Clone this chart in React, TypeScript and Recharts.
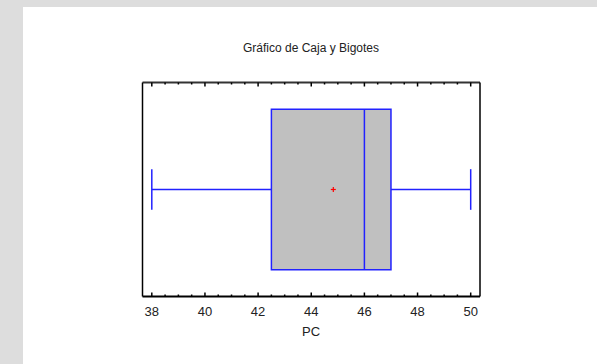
import {
  ScatterChart,
  Scatter,
  XAxis,
  YAxis,
  ReferenceArea,
  ReferenceLine,
} from "recharts";

// box-and-whisker statistics for PC
const variableName = "PC";
const minValue = [38];
const q1Value = [42.5];
const medianValue = [46];
const q3Value = [47];
const maxValue = [50];
const meanValue = [44.83];

const majorTicks = [38, 40, 42, 44, 46, 48, 50];
const allTicks = [
  38, 38.5, 39, 39.5, 40, 40.5, 41, 41.5, 42, 42.5, 43, 43.5, 44, 44.5, 45,
  45.5, 46, 46.5, 47, 47.5, 48, 48.5, 49, 49.5, 50,
];

const xDomain = [37.65, 50.35];
const boxLow = 0.125;
const boxHigh = 0.875;
const capLow = 0.405;
const capHigh = 0.595;
const mid = 0.5;

const BLUE = "#2222ff";
const FONT = "'Liberation Sans', Arial, sans-serif";

const meanData = meanValue.map((m) => ({ x: m, y: mid }));

const makeTick = (side: "top" | "bottom") => (props: any) => {
  const { x, y, payload } = props;
  const major = majorTicks.includes(payload.value);
  const len = major ? 4 : 2;
  const dir = side === "bottom" ? -1 : 1;
  return (
    <g>
      <line x1={x} x2={x} y1={y} y2={y + dir * len} stroke="#000" strokeWidth={1.5} />
      {side === "bottom" && major && (
        <text
          x={x}
          y={y + 19}
          textAnchor="middle"
          fontSize={13}
          fontFamily={FONT}
          fill="#222"
        >
          {payload.value}
        </text>
      )}
    </g>
  );
};

const MeanCross = (props: any) => {
  const { cx, cy } = props;
  return (
    <g stroke="#ff0000" strokeWidth={1.2}>
      <line x1={cx - 2.5} x2={cx + 2.5} y1={cy} y2={cy} />
      <line x1={cx} x2={cx} y1={cy - 2.5} y2={cy + 2.5} />
    </g>
  );
};

const Nothing = () => <g />;

export default function App() {
  return (
    <div
      style={{
        position: "absolute",
        left: 0,
        top: 0,
        width: 597,
        height: 364,
        background: "#dddddd",
        fontFamily: FONT,
      }}
    >
      <div
        style={{
          position: "absolute",
          left: 23,
          top: 7,
          width: 574,
          height: 357,
          background: "#ffffff",
        }}
      />
      <div
        style={{
          position: "absolute",
          left: 111,
          width: 400,
          top: 41,
          textAlign: "center",
          fontSize: 12,
          color: "#222",
        }}
      >
        Gráfico de Caja y Bigotes
      </div>
      <div
        style={{
          position: "absolute",
          left: 111,
          width: 400,
          top: 324,
          textAlign: "center",
          fontSize: 13,
          color: "#222",
        }}
      >
        {variableName}
      </div>
      <div style={{ position: "absolute", left: 0, top: 0 }}>
        <ScatterChart
          width={597}
          height={364}
          margin={{ top: 72.5, left: 132.5, right: 107, bottom: 37.5 }}
        >
          <XAxis
            xAxisId="b"
            dataKey="x"
            type="number"
            orientation="bottom"
            domain={xDomain}
            ticks={allTicks}
            interval={0}
            height={30}
            tickSize={0}
            tickMargin={0}
            tickLine={false}
            tick={makeTick("bottom")}
            axisLine={{ stroke: "#000", strokeWidth: 2 }}
          />
          <XAxis
            xAxisId="t"
            dataKey="x"
            type="number"
            orientation="top"
            domain={xDomain}
            ticks={allTicks}
            interval={0}
            height={10}
            tickSize={0}
            tickMargin={0}
            tickLine={false}
            tick={makeTick("top")}
            axisLine={{ stroke: "#333", strokeWidth: 2 }}
          />
          <YAxis
            yAxisId="l"
            dataKey="y"
            type="number"
            domain={[0, 1]}
            width={10}
            tick={false}
            tickLine={false}
            axisLine={{ stroke: "#000", strokeWidth: 1.5 }}
          />
          <YAxis
            yAxisId="r"
            dataKey="y"
            type="number"
            orientation="right"
            domain={[0, 1]}
            width={10}
            tick={false}
            tickLine={false}
            axisLine={{ stroke: "#000", strokeWidth: 1.5 }}
          />
          <ReferenceArea
            xAxisId="b"
            yAxisId="l"
            x1={q1Value[0]}
            x2={q3Value[0]}
            y1={boxLow}
            y2={boxHigh}
            fill="#c0c0c0"
            fillOpacity={1}
            stroke={BLUE}
            strokeWidth={1.5}
          />
          <ReferenceLine
            xAxisId="b"
            yAxisId="l"
            segment={[
              { x: medianValue[0], y: boxLow },
              { x: medianValue[0], y: boxHigh },
            ]}
            stroke={BLUE}
            strokeWidth={1.5}
          />
          <ReferenceLine
            xAxisId="b"
            yAxisId="l"
            segment={[
              { x: minValue[0], y: mid },
              { x: q1Value[0], y: mid },
            ]}
            stroke={BLUE}
            strokeWidth={1.5}
          />
          <ReferenceLine
            xAxisId="b"
            yAxisId="l"
            segment={[
              { x: q3Value[0], y: mid },
              { x: maxValue[0], y: mid },
            ]}
            stroke={BLUE}
            strokeWidth={1.5}
          />
          <ReferenceLine
            xAxisId="b"
            yAxisId="l"
            segment={[
              { x: minValue[0], y: capLow },
              { x: minValue[0], y: capHigh },
            ]}
            stroke={BLUE}
            strokeWidth={1.5}
          />
          <ReferenceLine
            xAxisId="b"
            yAxisId="l"
            segment={[
              { x: maxValue[0], y: capLow },
              { x: maxValue[0], y: capHigh },
            ]}
            stroke={BLUE}
            strokeWidth={1.5}
          />
          <Scatter
            xAxisId="t"
            yAxisId="r"
            data={meanData}
            shape={<Nothing />}
            isAnimationActive={false}
          />
          <Scatter
            xAxisId="b"
            yAxisId="l"
            data={meanData}
            shape={<MeanCross />}
            isAnimationActive={false}
          />
        </ScatterChart>
      </div>
    </div>
  );
}
